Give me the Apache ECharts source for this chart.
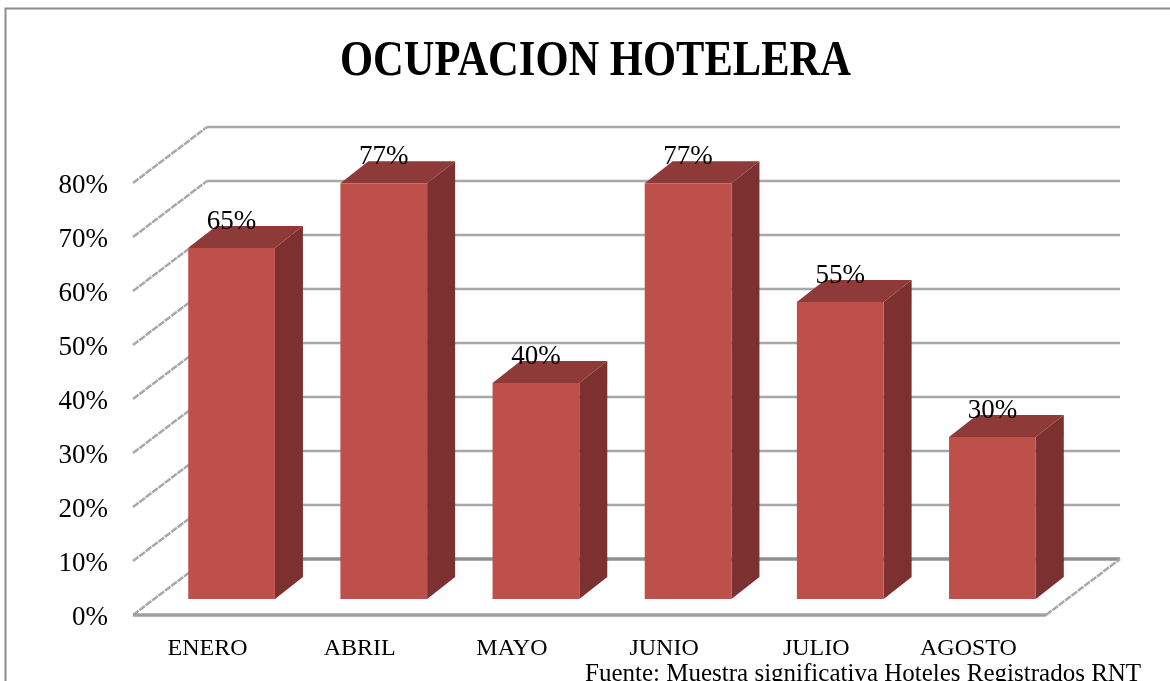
<!DOCTYPE html>
<html><head><meta charset="utf-8">
<style>html,body{margin:0;padding:0;background:#fff}#c{width:1170px;height:681px}</style>
<script src="https://cdn.jsdelivr.net/npm/echarts@6/dist/echarts.min.js"></script>
</head><body><div id="c"></div>
<script>
const categories = ['ENERO','ABRIL','MAYO','JUNIO','JULIO','AGOSTO'];
const occupancy = [65,77,40,77,55,30];
const gridTicks = [0,10,20,30,40,50,60,70,80];
const titleText = 'OCUPACION HOTELERA';
const sourceText = 'Fuente: Muestra significativa Hoteles Registrados RNT';
const FONT = '"Liberation Serif", serif';
const wall = {dx:74, dy:-56};
const barOffset = {dx:22.5, dy:-16};
const barDepth = {dx:28, dy:-22};

const chart = echarts.init(document.getElementById('c'), null, {renderer:'canvas'});
chart.setOption({
  animation:false,
  backgroundColor:'#fff',
  title:[{text:sourceText,left:580,top:657,textStyle:{fontFamily:FONT,fontWeight:'normal',fontSize:25,color:'#000'}}],
  graphic:[
    {type:'rect',shape:{x:5.5,y:8.5,width:1300,height:800},style:{fill:'none',stroke:'#8c8c8c',lineWidth:2},silent:true},
    {type:'text',x:340,y:62,scaleX:0.851,silent:true,style:{text:titleText,verticalAlign:'middle',align:'left',fontFamily:FONT,fontWeight:'bold',fontSize:50,fill:'#000'}}
  ],
  grid:{left:133,right:124,top:183,bottom:66},
  xAxis:{type:'category',data:categories,axisLine:{show:false},axisTick:{show:false},splitLine:{show:false},
    axisLabel:{fontFamily:FONT,fontSize:24,color:'#000',margin:22,padding:[0,3,0,0]}},
  yAxis:{type:'value',min:0,max:80,interval:10,axisLine:{show:false},axisTick:{show:false},splitLine:{show:false},
    axisLabel:{fontFamily:FONT,fontSize:27,color:'#000',margin:25,verticalAlign:'top',lineHeight:5,formatter:'{value}%'}},
  series:[
    {type:'custom',z:1,silent:true,clip:false,data:gridTicks.map(t=>[0,t]),
     renderItem(params,api){
       const cs=params.coordSys, v=api.value(1), y=api.coord([0,v])[1];
       const L=cs.x, R=cs.x+cs.width;
       const floor=v===0;
       const back={stroke:floor?'#8f8f8f':'#a8a8a8',lineWidth:floor?3.5:2.5};
       const side={stroke:'#a8a8a8',lineWidth:2.5,lineDash:[7,1]};
       const ch=[
         {type:'polyline',shape:{points:[[L,y],[L+wall.dx,y+wall.dy]]},style:Object.assign({fill:null},side)},
         {type:'polyline',shape:{points:[[L+wall.dx,y+wall.dy],[R+wall.dx,y+wall.dy]]},style:Object.assign({fill:null},back)}
       ];
       if(floor){
         ch.push({type:'polyline',shape:{points:[[L,y],[R,y]]},style:{fill:null,stroke:'#a0a0a0',lineWidth:3.5}});
         ch.push({type:'polyline',shape:{points:[[R,y],[R+wall.dx,y+wall.dy]]},style:Object.assign({fill:null},side)});
       }
       return {type:'group',children:ch};
     }},
    {type:'custom',z:2,silent:true,clip:false,data:occupancy.map((v,i)=>[i,v]),
     renderItem(params,api){
       const i=api.value(0), v=api.value(1);
       const band=api.size([1,0])[0], w=band*0.57;
       const top=api.coord([i,v]), base=api.coord([i,0]);
       const x0=top[0]+barOffset.dx-w/2, x1=x0+w;
       const yT=top[1]+barOffset.dy, yB=base[1]+barOffset.dy;
       const d=barDepth;
       return {type:'group',children:[
         {type:'polygon',shape:{points:[[x1,yT],[x1+d.dx,yT+d.dy],[x1+d.dx,yB+d.dy],[x1,yB]]},style:{fill:'#7c3130'}},
         {type:'polygon',shape:{points:[[x0,yT],[x0+d.dx,yT+d.dy],[x1+d.dx,yT+d.dy],[x1,yT]]},style:{fill:'#8d3a38'}},
         {type:'rect',shape:{x:x0,y:yT,width:w,height:yB-yT},style:{fill:'#be504c'}},
         {type:'text',style:{text:v+'%',x:(x0+x1)/2,y:yT-26,align:'center',verticalAlign:'middle',fontFamily:FONT,fontSize:27,fill:'#000'}}
       ]};
     }}
  ]
});
</script></body></html>
